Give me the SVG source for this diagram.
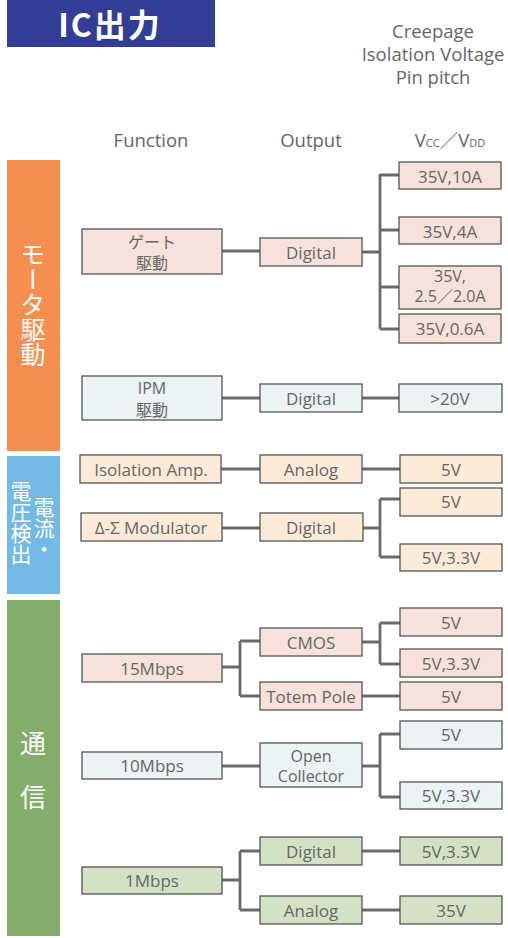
<svg xmlns="http://www.w3.org/2000/svg" width="508" height="938" viewBox="0 0 508 938">
<style>
text{font-family:"Open Sans","Noto Sans CJK JP",sans-serif;fill:#666;font-size:17px;text-anchor:middle}
.hd{font-size:18.5px}
.two{font-size:16px}
.side{fill:#fff;font-family:"Noto Sans CJK JP",sans-serif;writing-mode:vertical-rl;text-anchor:start}
.box{stroke:#555;stroke-width:1.3}
.pk{fill:#f6e2da}.pe{fill:#fdebd9}.bl{fill:#ebf3f5}.gr{fill:#d3e2c5}
.ln{fill:none;stroke:#6a6a6a;stroke-width:2.8}
</style>
<rect x="7" y="0" width="208" height="47" fill="#323e96"/>
<text x="110" y="37" style="fill:#fff;font-size:32px;font-weight:bold;letter-spacing:2px;font-family:'Noto Sans CJK JP',sans-serif">IC出力</text>
<text class="hd" x="433" y="38">Creepage</text>
<text class="hd" x="433" y="61">Isolation Voltage</text>
<text class="hd" x="433" y="84">Pin pitch</text>
<text class="hd" x="151" y="147">Function</text>
<text class="hd" x="311" y="147">Output</text>
<text class="hd" x="450" y="147">V<tspan font-size="11">CC</tspan>／V<tspan font-size="11">DD</tspan></text>

<g id="side-motor"><rect x="7" y="160" width="53" height="291" fill="#f48f50"/>
<text class="side" x="33" y="242" style="font-size:25px">モータ駆動</text></g>
<g id="side-sense"><rect x="7" y="456" width="53" height="138" fill="#72b9e6"/>
<text class="side" x="21" y="481" style="font-size:21px">電圧検出</text>
<text class="side" x="44" y="497" style="font-size:21px">電流・</text></g>
<g id="side-comm"><rect x="7" y="600" width="53" height="336" fill="#84ad6b"/>
<text class="side" x="33" y="730" style="font-size:26px">通</text><text class="side" x="33" y="784" style="font-size:26px">信</text></g>

<g id="connectors">
<path class="ln" d="M222 251H260M362 252H380M380 174V329M380 175H399M380 230H399M380 287H399M380 329H399"/>
<path class="ln" d="M222 398H260M362 398H399"/>
<path class="ln" d="M221 469H260M362 469H400"/>
<path class="ln" d="M222 528H260M363 528H380M380 499V557M380 499H400M380 557H400"/>
<path class="ln" d="M222 667H240M240 641V696M240 641H260M240 696H260M362 642H380M380 623V664M380 623H400M380 664H400M362 696H400"/>
<path class="ln" d="M222 766H260M362 766H380M380 734V797M380 734H400M380 797H400"/>
<path class="ln" d="M222 880H240M240 851V910M240 851H260M240 910H260M362 851H400M362 910H400"/>
</g>

<g id="n-gate"><rect class="box pk" x="82" y="229" width="140" height="45"/><text class="two" x="152" y="248">ゲート</text><text class="two" x="152" y="269">駆動</text></g>
<g id="n-gate-dig"><rect class="box pk" x="260" y="238" width="102" height="28"/><text x="311" y="259">Digital</text></g>
<g id="n-35-10"><rect class="box pk" x="399" y="162" width="102" height="27"/><text x="450" y="183">35V,10A</text></g>
<g id="n-35-4"><rect class="box pk" x="399" y="217" width="102" height="27"/><text x="450" y="238">35V,4A</text></g>
<g id="n-35-25"><rect class="box pk" x="399" y="266" width="102" height="43"/><text class="two" x="450" y="282">35V,</text><text class="two" x="450" y="302">2.5／2.0A</text></g>
<g id="n-35-06"><rect class="box pk" x="399" y="314" width="102" height="29"/><text x="450" y="335">35V,0.6A</text></g>

<g id="n-ipm"><rect class="box bl" x="82" y="376" width="140" height="44"/><text class="two" x="152" y="394">IPM</text><text class="two" x="152" y="416">駆動</text></g>
<g id="n-ipm-dig"><rect class="box bl" x="260" y="384" width="102" height="28"/><text x="311" y="405">Digital</text></g>
<g id="n-20v"><rect class="box bl" x="399" y="384" width="103" height="28"/><text x="450" y="405">&gt;20V</text></g>

<g id="n-iso"><rect class="box pe" x="80" y="455" width="141" height="28"/><text x="151" y="476">Isolation Amp.</text></g>
<g id="n-iso-ana"><rect class="box pe" x="260" y="455" width="102" height="28"/><text x="311" y="476">Analog</text></g>
<g id="n-iso-5v"><rect class="box pe" x="400" y="455" width="102" height="28"/><text x="451" y="476">5V</text></g>

<g id="n-ds"><rect class="box pe" x="81" y="513" width="141" height="28"/><text x="151" y="534">Δ-Σ Modulator</text></g>
<g id="n-ds-dig"><rect class="box pe" x="260" y="513" width="103" height="28"/><text x="311" y="534">Digital</text></g>
<g id="n-ds-5v"><rect class="box pe" x="400" y="488" width="102" height="28"/><text x="451" y="508">5V</text></g>
<g id="n-ds-533"><rect class="box pe" x="400" y="544" width="102" height="27"/><text x="451" y="564">5V,3.3V</text></g>

<g id="n-15"><rect class="box pk" x="82" y="654" width="140" height="28"/><text x="152" y="675">15Mbps</text></g>
<g id="n-cmos"><rect class="box pk" x="260" y="628" width="102" height="28"/><text x="311" y="649">CMOS</text></g>
<g id="n-totem"><rect class="box pk" x="260" y="682" width="102" height="28"/><text x="311" y="703">Totem Pole</text></g>
<g id="n-cmos-5v"><rect class="box pk" x="400" y="608" width="102" height="28"/><text x="451" y="629">5V</text></g>
<g id="n-cmos-533"><rect class="box pk" x="400" y="649" width="102" height="28"/><text x="451" y="670">5V,3.3V</text></g>
<g id="n-totem-5v"><rect class="box pk" x="400" y="682" width="102" height="28"/><text x="451" y="703">5V</text></g>

<g id="n-10"><rect class="box bl" x="82" y="752" width="140" height="27"/><text x="152" y="772">10Mbps</text></g>
<g id="n-oc"><rect class="box bl" x="260" y="743" width="102" height="44"/><text class="two" x="311" y="762">Open</text><text class="two" x="311" y="782">Collector</text></g>
<g id="n-oc-5v"><rect class="box bl" x="400" y="721" width="102" height="28"/><text x="451" y="741">5V</text></g>
<g id="n-oc-533"><rect class="box bl" x="400" y="782" width="102" height="27"/><text x="451" y="802">5V,3.3V</text></g>

<g id="n-1"><rect class="box gr" x="82" y="867" width="140" height="27"/><text x="152" y="887">1Mbps</text></g>
<g id="n-1-dig"><rect class="box gr" x="260" y="837" width="102" height="28"/><text x="311" y="858">Digital</text></g>
<g id="n-1-ana"><rect class="box gr" x="260" y="896" width="102" height="28"/><text x="311" y="917">Analog</text></g>
<g id="n-1-533"><rect class="box gr" x="400" y="837" width="102" height="28"/><text x="451" y="858">5V,3.3V</text></g>
<g id="n-1-35"><rect class="box gr" x="400" y="896" width="102" height="28"/><text x="451" y="917">35V</text></g>
</svg>
